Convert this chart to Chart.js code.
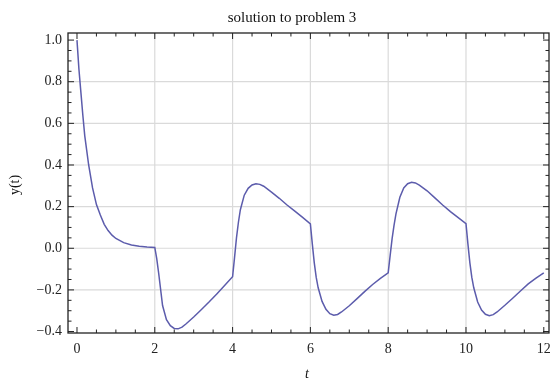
<!DOCTYPE html>
<html>
<head>
<meta charset="utf-8">
<script src="https://cdn.jsdelivr.net/npm/chart.js@4.4.0/dist/chart.umd.min.js"></script>
<style>
  html, body { margin: 0; padding: 0; background: #fff; }
</style>
</head>
<body>
<canvas id="myChart" width="550" height="379"></canvas>
<script>
// values
const tValues = [
  0, 0.05, 0.1, 0.15, 0.2, 0.3, 0.4, 0.5, 0.6, 0.7, 0.8, 0.9, 1.0, 1.2, 1.4, 1.6, 1.8, 2.0,
  2.05, 2.1, 2.2, 2.3, 2.4, 2.5, 2.6, 2.7, 2.8, 3.0, 3.2, 3.4, 3.6, 3.8, 4.0,
  4.05, 4.1, 4.15, 4.2, 4.3, 4.4, 4.5, 4.6, 4.7, 4.8, 5.0, 5.2, 5.4, 5.6, 5.8, 6.0,
  6.05, 6.1, 6.15, 6.2, 6.3, 6.4, 6.5, 6.6, 6.7, 6.8, 7.0, 7.2, 7.4, 7.6, 7.8, 8.0,
  8.05, 8.1, 8.15, 8.2, 8.3, 8.4, 8.5, 8.6, 8.7, 8.8, 9.0, 9.2, 9.4, 9.6, 9.8, 10.0,
  10.05, 10.1, 10.15, 10.2, 10.3, 10.4, 10.5, 10.6, 10.7, 10.8, 11.0, 11.2, 11.4, 11.6, 11.8, 12.0
];
const yValues = [
  1.0, 0.86, 0.75, 0.64, 0.54, 0.40, 0.29, 0.21, 0.16, 0.115, 0.085, 0.063, 0.047, 0.027, 0.016, 0.010, 0.006, 0.004,
  -0.05, -0.12, -0.275, -0.343, -0.372, -0.385, -0.387, -0.379, -0.364, -0.33, -0.294, -0.257, -0.218, -0.178, -0.137,
  -0.045, 0.05, 0.125, 0.185, 0.255, 0.288, 0.304, 0.31, 0.307, 0.298, 0.27, 0.24, 0.208, 0.178, 0.148, 0.117,
  0.02, -0.07, -0.14, -0.19, -0.255, -0.293, -0.314, -0.322, -0.318, -0.306, -0.276, -0.242, -0.207, -0.174, -0.145, -0.118,
  -0.035, 0.045, 0.11, 0.165, 0.245, 0.29, 0.31, 0.317, 0.314, 0.303, 0.276, 0.242, 0.208, 0.176, 0.147, 0.118,
  0.02, -0.07, -0.14, -0.19, -0.258, -0.297, -0.317, -0.324, -0.319, -0.306, -0.274, -0.24, -0.205, -0.171, -0.143, -0.118
];
const xTicks = [0, 2, 4, 6, 8, 10, 12];
const yTicks = [-0.4, -0.2, 0, 0.2, 0.4, 0.6, 0.8, 1.0];
const xGrid = [2, 4, 6, 8, 10];
const yGrid = [-0.2, 0, 0.2, 0.4, 0.6, 0.8];

const points = tValues.map((t, i) => ({ x: t, y: yValues[i] }));
const font = "'Liberation Serif', 'Times New Roman', serif";

function line(ctx, x1, y1, x2, y2) {
  ctx.beginPath();
  ctx.moveTo(x1, y1);
  ctx.lineTo(x2, y2);
  ctx.stroke();
}

// mathematica style frame: grid, ticks on all sides, labels
const framePlugin = {
  id: 'frame',
  beforeDatasetsDraw(chart) {
    const { ctx, chartArea: a, scales: { x, y } } = chart;
    ctx.save();
    ctx.strokeStyle = '#dadada';
    ctx.lineWidth = 1.2;
    xGrid.forEach(v => { const px = x.getPixelForValue(v); line(ctx, px, a.top, px, a.bottom) });
    yGrid.forEach(v => { const py = y.getPixelForValue(v); line(ctx, a.left, py, a.right, py) });
    ctx.restore();
  },
  afterDatasetsDraw(chart) {
    const { ctx, chartArea: a, scales: { x, y } } = chart;
    ctx.save();
    ctx.strokeStyle = '#222';
    ctx.lineWidth = 1.3;
    ctx.strokeRect(a.left, a.top, a.right - a.left, a.bottom - a.top);
    ctx.lineWidth = 1;
    // x ticks every 0.5
    for (let k = 0; k <= 24; k++) {
      const px = x.getPixelForValue(k * 0.5);
      const len = k % 4 === 0 ? 6 : 3.5;
      line(ctx, px, a.bottom, px, a.bottom - len);
      line(ctx, px, a.top, px, a.top + len);
    }
    // y ticks every 0.05
    for (let k = -8; k <= 20; k++) {
      const py = y.getPixelForValue(k * 0.05);
      const len = k % 4 === 0 ? 6 : 3.5;
      line(ctx, a.left, py, a.left + len, py);
      line(ctx, a.right, py, a.right - len, py);
    }
    ctx.fillStyle = '#111';
    ctx.textAlign = 'center';
    ctx.textBaseline = 'middle';
    ctx.font = '15px ' + font;
    ctx.fillText('solution to problem 3', 292, 18);
    ctx.font = 'italic 14px ' + font;
    ctx.fillText('t', 307, 374);
    ctx.translate(15, 185);
    ctx.rotate(-Math.PI / 2);
    ctx.font = '14px ' + font;
    ctx.fillText('y(t)', 0, 0);
    ctx.restore();
  }
};

const ctx = document.getElementById('myChart');
new Chart(ctx, {
  type: 'line',
  data: {
    datasets: [{
      data: points,
      borderColor: '#5c5cac',
      borderWidth: 1.5,
      pointRadius: 0,
      fill: false,
      tension: 0
    }]
  },
  options: {
    responsive: false,
    devicePixelRatio: 1,
    animation: false,
    layout: { padding: { top: 33, right: 1, bottom: 0, left: 0 } },
    plugins: {
      legend: { display: false },
      title: { display: false },
      tooltip: { enabled: false }
    },
    scales: {
      x: {
        type: 'linear',
        min: -0.231,
        max: 12.134,
        grid: { display: false, drawTicks: false },
        border: { display: false },
        ticks: {
          padding: 8,
          color: '#222',
          font: { family: font, size: 14 },
          maxRotation: 0,
          callback: v => String(v)
        },
        afterBuildTicks: s => { s.ticks = xTicks.map(v => ({ value: v })) },
        afterFit: s => { s.height = 46; s.paddingLeft = 0; s.paddingRight = 0 }
      },
      y: {
        type: 'linear',
        min: -0.407,
        max: 1.034,
        grid: { display: false, drawTicks: false },
        border: { display: false },
        ticks: {
          padding: 6,
          color: '#222',
          font: { family: font, size: 14 },
          callback: v => v.toFixed(1).replace('-', '\u2212')
        },
        afterBuildTicks: s => { s.ticks = yTicks.map(v => ({ value: v })) },
        afterFit: s => { s.width = 68; s.paddingTop = 0; s.paddingBottom = 0 }
      }
    }
  },
  plugins: [framePlugin]
});
</script>
</body>
</html>
